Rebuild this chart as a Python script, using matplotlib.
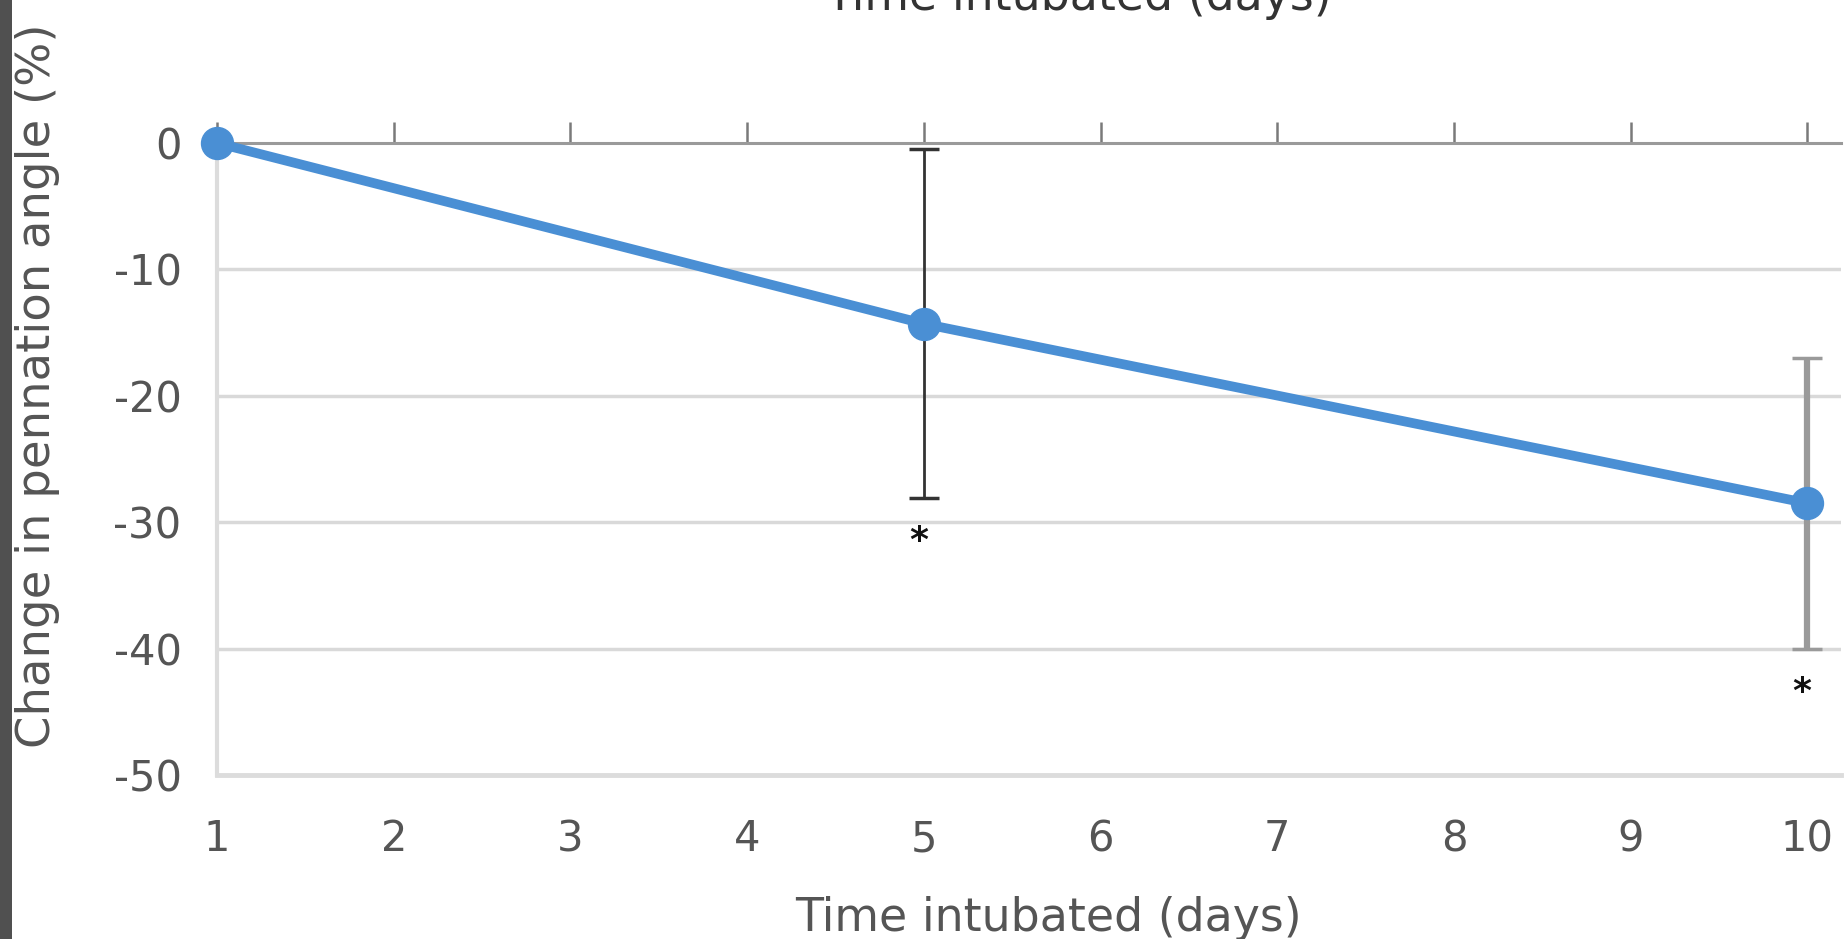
import matplotlib
matplotlib.use('Agg')
import matplotlib.pyplot as plt
from matplotlib.patches import Rectangle

# Data
days = [1, 5, 10]
change = [0.0, -14.3, -28.5]
err = [0.0, 13.8, 11.5]
err_colors = ['#333333', '#333333', '#9a9a9a']
cap_colors = ['#333333', '#333333', '#555555']
err_widths = [2.0, 2.0, 4.5]
sig_days = [5, 10]
x_ticks = list(range(1, 11))
y_ticks = [0, -10, -20, -30, -40, -50]

BLUE = '#4A8FD4'
GRID = '#d9d9d9'
TEXT = '#555555'

plt.rcParams['font.family'] = ['DejaVu Sans']

fig = plt.figure(figsize=(18.48, 9.39), dpi=100)
fig.patch.set_facecolor('white')
ax = fig.add_axes([217 / 1848, 1 - 775 / 939, (1841 - 217) / 1848, (775 - 143) / 939])
ax.set_facecolor('white')

# dark strip on left edge
fig.patches.append(Rectangle((0, 0), 12 / 1848, 1, transform=fig.transFigure,
                             facecolor='#505050', edgecolor='none'))

# error bars (behind the line)
for i, (d, c, e) in enumerate(zip(days, change, err)):
    if e == 0:
        continue
    _, caps, _ = ax.errorbar(d, c, yerr=e, fmt='none', ecolor=err_colors[i],
                             elinewidth=err_widths[i], capsize=11, capthick=2.5, zorder=2)
    for cap in caps:
        cap.set_color(cap_colors[i])

ax.plot(days, change, color=BLUE, lw=7, marker='o', ms=23, zorder=3, clip_on=False)

# significance marks
for d in sig_days:
    i = days.index(d)
    ax.text(d - 0.03, change[i] - err[i] - 3.4, '*', ha='center', va='center',
            fontsize=26, fontweight='bold', color='#111111')

ax.set_xlim(1, 10.19)
ax.set_ylim(-50, 0)
ax.set_xticks(x_ticks)
ax.set_yticks(y_ticks)
ax.set_xticklabels([str(t) for t in x_ticks])
ax.set_yticklabels([str(t) for t in y_ticks])

for y in y_ticks[1:-1]:
    ax.axhline(y, color=GRID, lw=2.5, zorder=1)

ax.spines['right'].set_visible(False)
ax.spines['top'].set_color('#9a9a9a')
ax.spines['top'].set_linewidth(2.2)
ax.spines['bottom'].set_color('#dcdcdc')
ax.spines['bottom'].set_linewidth(3.5)
ax.spines['left'].set_color('#dcdcdc')
ax.spines['left'].set_linewidth(3)

ax.tick_params(axis='x', bottom=False, top=True, labelbottom=True, labeltop=False,
               direction='out', length=15, width=1.8, color='#7a7a7a',
               labelsize=30, labelcolor=TEXT, pad=16)
ax.tick_params(axis='y', left=False, labelsize=30, labelcolor=TEXT, pad=22)

fig.text(1048 / 1848, 1 - 931 / 939, 'Time intubated (days)', ha='center', va='baseline',
         fontsize=33, color=TEXT)
fig.text(38 / 1848, 1 - 386 / 939, 'Change in pennation angle (%)', rotation=90,
         ha='center', va='center', fontsize=33.5, color=TEXT)

# cut-off label at the very top
fig.text(1078 / 1848, 1 - 10 / 939, 'Time intubated (days)', ha='center', va='baseline',
         fontsize=33, color='#333333')

fig.savefig('out.png', dpi=100, facecolor='white')
